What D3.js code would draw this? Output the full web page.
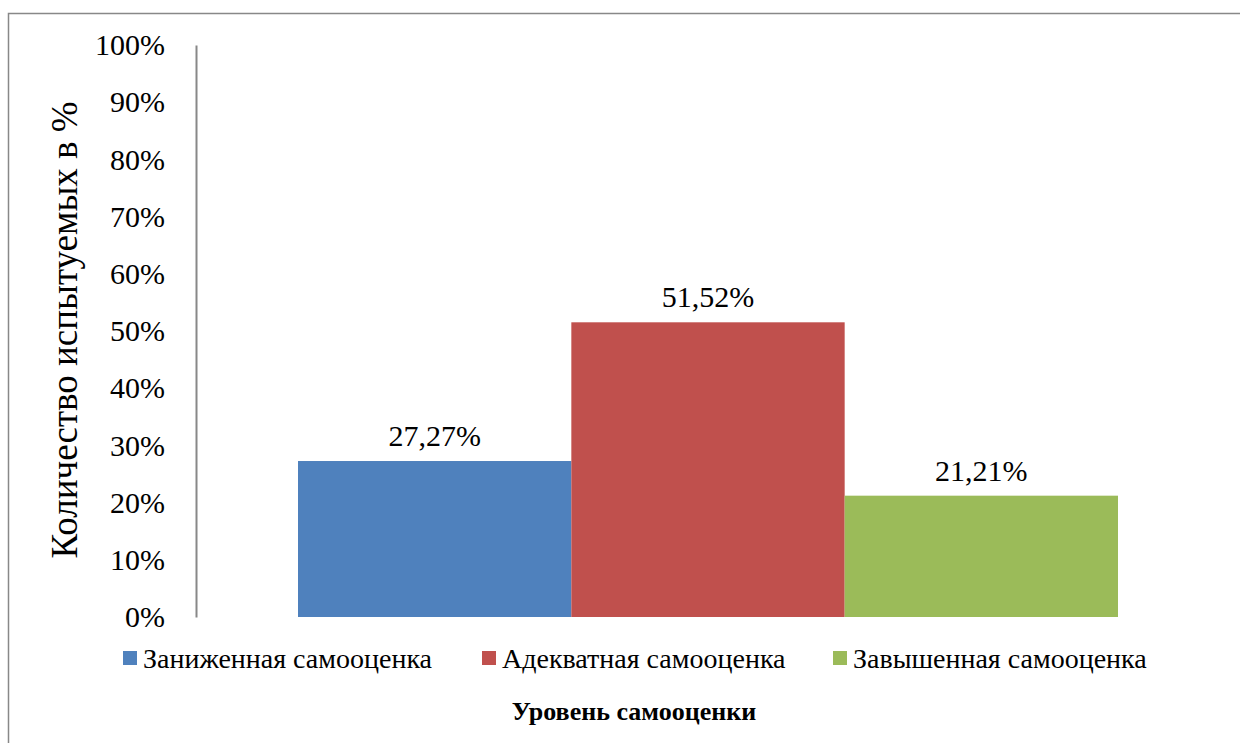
<!DOCTYPE html>
<html>
<head>
<meta charset="utf-8">
<script src="https://d3js.org/d3.v7.min.js"></script>
<style>
  body { margin: 0; background: #fff; }
  svg text { font-family: "Liberation Serif", "Times New Roman", "DejaVu Serif", serif; fill: #000; }
</style>
</head>
<body>
<svg width="1240" height="743"></svg>
<script>
// data
var series = ["Заниженная самооценка", "Адекватная самооценка", "Завышенная самооценка"];
var values = [27.27, 51.52, 21.21];
var labels = ["27,27%", "51,52%", "21,21%"];
var colors = ["#4f81bd", "#c0504d", "#9bbb59"];
var yTicks = [0, 10, 20, 30, 40, 50, 60, 70, 80, 90, 100];

var svg = d3.select("svg");
var serif = "'Liberation Serif', 'Times New Roman', 'DejaVu Serif', serif";

// outer frame
svg.append("rect")
    .attr("x", 8.5).attr("y", 13.5)
    .attr("width", 1250).attr("height", 760)
    .attr("fill", "none").attr("stroke", "#888").attr("stroke-width", 1.5);

var y = d3.scaleLinear().domain([0, 100]).range([617, 45]);
var x = d3.scaleBand().domain(series).range([298, 1118]).padding(0);

// y axis
var yAxis = svg.append("g")
    .attr("transform", "translate(196,0)")
    .call(d3.axisLeft(y).tickValues(yTicks).tickSize(0).tickPadding(31)
        .tickFormat(function(d) { return d + "%"; }));
yAxis.attr("font-family", serif);
yAxis.select(".domain").attr("stroke", "#888").attr("stroke-width", 2);
yAxis.selectAll("text")
    .attr("font-family", serif)
    .style("font-size", "30px")
    .attr("fill", "#000");

// bars
svg.append("g").selectAll("rect")
    .data(values)
    .enter().append("rect")
    .attr("x", function(d, i) { return x(series[i]); })
    .attr("y", function(d) { return y(d); })
    .attr("width", x.bandwidth())
    .attr("height", function(d) { return y(0) - y(d); })
    .attr("fill", function(d, i) { return colors[i]; });

// data labels
svg.append("g").selectAll("text")
    .data(values)
    .enter().append("text")
    .attr("x", function(d, i) { return x(series[i]) + x.bandwidth() / 2; })
    .attr("y", function(d) { return y(d) - 15; })
    .attr("text-anchor", "middle")
    .style("font-size", "30px")
    .text(function(d, i) { return labels[i]; });

// legend
var legendX = [123, 482, 833];
var legend = svg.append("g").selectAll("g")
    .data(series)
    .enter().append("g")
    .attr("transform", function(d, i) { return "translate(" + legendX[i] + ",651)"; });
legend.append("rect")
    .attr("width", 14).attr("height", 14)
    .attr("fill", function(d, i) { return colors[i]; });
legend.append("text")
    .attr("x", 20).attr("y", 17)
    .style("font-size", "28px")
    .text(function(d) { return d; });

// axis titles
svg.append("text")
    .attr("transform", "translate(77,330) rotate(-90)")
    .attr("text-anchor", "middle")
    .style("font-size", "37px")
    .text("Количество испытуемых в %");

svg.append("text")
    .attr("x", 634).attr("y", 720)
    .attr("text-anchor", "middle")
    .style("font-size", "26px")
    .style("font-weight", "bold")
    .text("Уровень самооценки");
</script>
</body>
</html>
